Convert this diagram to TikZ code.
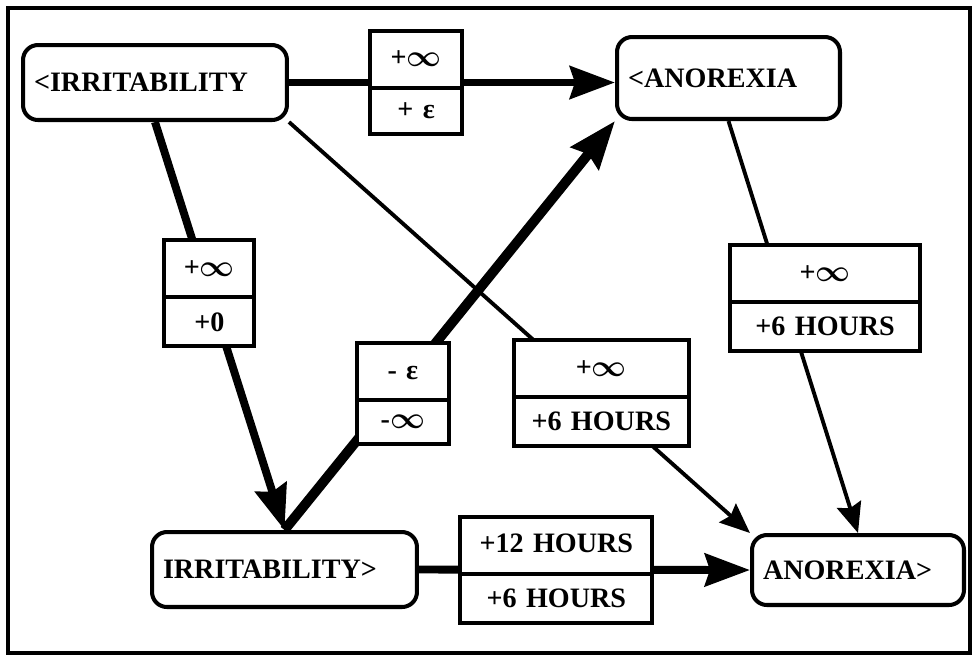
\documentclass[tikz,border=0pt]{standalone}
\usepackage{fontspec}
\setmainfont{Liberation Serif}
\usetikzlibrary{calc}
\usetikzlibrary{shapes.multipart, arrows.meta}
\tikzstyle{evtnode} = [rectangle, 
rounded corners=0.3cm, 
anchor=north west, 
inner xsep=0.22cm, 
align=left, 
draw=black, 
line width=2.3pt, 
fill=white, 
font=\bfseries\fontsize{16}{18}\selectfont]
\tikzstyle{boundbox} = [rectangle split, 
rectangle split parts=2, 
inner xsep=0pt, 
inner ysep=0.26cm, 
text height=0.42cm, 
text depth=0.12cm, 
align=center, 
draw=black, 
line width=2.3pt, 
fill=white, 
font=\bfseries\boldmath\fontsize{16}{18}\selectfont]
\tikzstyle{arrow} = [line width=4.5pt,-{Stealth[length=0.9cm, width=0.65cm, inset=0.1cm]}]
\tikzstyle{heavyarrow} = [line width=5.6pt,-{Stealth[length=0.95cm, width=0.7cm, inset=0.1cm]}]
\tikzstyle{thinarrow} = [line width=2.2pt,-{Stealth[length=0.6cm, width=0.5cm, inset=0.08cm]}]

\begin{document}
\begin{tikzpicture}[x=0.02cm, y=-0.02cm]
    \useasboundingbox (0,0) rectangle (975,656);
    \draw [line width=2.3pt] (8,8) rectangle (970,653);

    \node (irrs) [evtnode, text width=4.84cm, minimum height=1.5cm] at (21,43) {<IRRITABILITY};
    \node (anos) [evtnode, text width=4.02cm, minimum height=1.64cm] at (615,35) {<ANOREXIA};
    \node (irre) [evtnode, text width=4.86cm, minimum height=1.5cm] at (150,530) {IRRITABILITY>};
    \node (anoe) [evtnode, text width=3.8cm, minimum height=1.4cm] at (750,533) {ANOREXIA>};

    % Bounds on the start points
    \draw [arrow] (irrs.east) -- node (bA) [boundbox, text width=1.84cm, pos=0.39] {+$\infty$\nodepart{two}+ ε} (anos.west |- irrs.east);
    \draw [arrow] (irrs.south) -- node (bB) [boundbox, text width=1.8cm, pos=0.42] {+$\infty$\nodepart{two}+0} (irre.north);
    \draw [heavyarrow] (irre.north) -- node (bC) [boundbox, text width=1.84cm, pos=0.334, xshift=0.16cm] {- ε\nodepart{two}-$\infty$} (anos.south west);

    % Bounds on the end points
    \draw [thinarrow] (irrs.south east) -- node (bE) [boundbox, text width=3.5cm, pos=0.66, xshift=0.16cm] {+$\infty$\nodepart{two}+6 HOURS} (anoe.north west);
    \draw [thinarrow] (anos.south) -- node (bD) [boundbox, text width=3.8cm, pos=0.43, xshift=0.82cm] {+$\infty$\nodepart{two}+6 HOURS} (anoe.north);
    \draw [arrow] (irre.east) -- node (bF) [boundbox, text width=3.84cm, pos=0.415] {+12 HOURS\nodepart{two}+6 HOURS} (anoe.west);
\end{tikzpicture}
\end{document}
